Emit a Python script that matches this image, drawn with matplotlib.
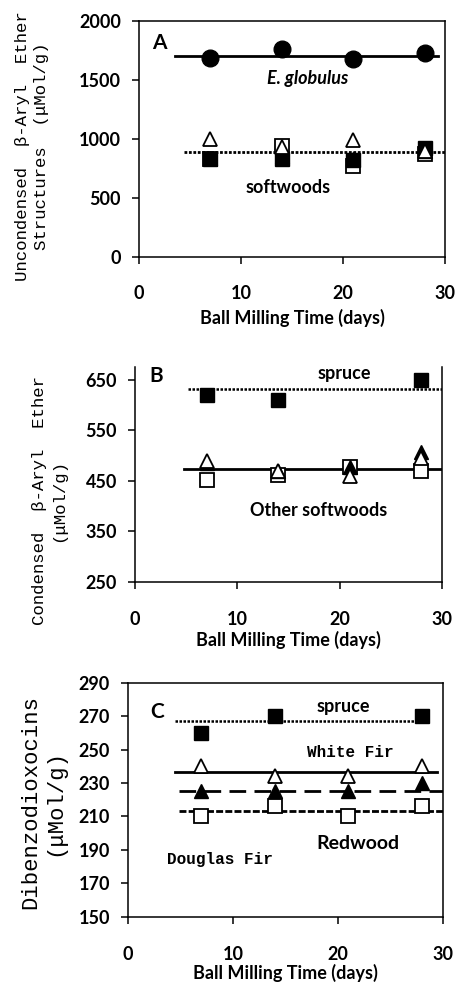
import numpy as np
import matplotlib
matplotlib.use("Agg")
import matplotlib.pyplot as plt

# valeurs
days = [7, 14, 21, 28]

# panneau A : beta-aryl ether non condense
eglob_A = [1690, 1760, 1680, 1730]
spruce_A = [830, 830, 820, 920]
whitefir_A = [1000, 930, 990, 900]
redwood_A = [840, 860, 830, 900]
douglas_A = [830, 940, 770, 870]
mean_eglob_A = 1700
mean_soft_A = 890

# panneau B : beta-aryl ether condense
spruce_B = [620, 610, np.nan, 650]
whitefir_B = [490, 470, 460, 495]
redwood_B = [485, 470, 478, 508]
douglas_B = [452, 462, 478, 470]
mean_spruce_B = 632
mean_other_B = 474

# panneau C : dibenzodioxocines
spruce_C = [260, 270, np.nan, 270]
whitefir_C = [240, 234, 234, 240]
redwood_C = [225, 225, 225, 230]
douglas_C = [210, 216, 210, 216]
mean_spruce_C = 267
mean_whitefir_C = 236.5
mean_redwood_C = 225.5
mean_douglas_C = 213

SANS = "Lato"
MONO = "Liberation Mono"
plt.rcParams['font.family'] = [SANS, 'DejaVu Sans']

fig = plt.figure(figsize=(4.57, 9.84), dpi=100)
axA = fig.add_axes([0.304, 0.7388, 0.670, 0.2399])
axB = fig.add_axes([0.2954, 0.4085, 0.6716, 0.2185])
axC = fig.add_axes([0.280, 0.0684, 0.689, 0.2378])


def style(ax, ylim, yticks, xpad=15, lpad=5):
    ax.set_xlim(0, 30)
    ax.set_ylim(*ylim)
    ax.set_xticks([0, 10, 20, 30])
    ax.set_yticks(yticks)
    for s in ax.spines.values():
        s.set_linewidth(1.1)
    ax.tick_params(axis='x', direction='out', length=5, width=1.1, pad=xpad, labelsize=13)
    ax.tick_params(axis='y', direction='out', length=5, width=1.1, pad=8, labelsize=13)
    for lab in ax.get_xticklabels() + ax.get_yticklabels():
        lab.set_fontweight('bold')
    ax.set_xlabel('Ball Milling Time (days)', fontsize=13, fontweight='bold', labelpad=lpad)


def points(ax, sp, wf, rw, df, ms=10):
    ax.plot(days, df, 's', ms=ms, mfc='white', mec='black', mew=1.3, ls='none', zorder=3)
    ax.plot(days, sp, 's', ms=ms, mfc='black', mec='black', ls='none', zorder=4)
    ax.plot(days, rw, '^', ms=ms, mfc='black', mec='black', ls='none', zorder=5)
    ax.plot(days, wf, '^', ms=ms, mfc='white', mec='black', mew=1.3, ls='none', zorder=6)


# A
style(axA, (0, 2000), [0, 500, 1000, 1500, 2000])
axA.plot([3.5, 29.3], [mean_eglob_A] * 2, color='black', lw=2, zorder=2)
axA.plot([4.4, 30], [mean_soft_A] * 2, color='black', lw=2, ls=(0, (1, 0.6)), zorder=2)
axA.plot(days, eglob_A, 'o', ms=12, color='black', zorder=6)
points(axA, spruce_A, whitefir_A, redwood_A, douglas_A)
axA.text(2.0, 1810, 'A', fontsize=15, fontweight='bold', ha='center', va='center')
axA.text(16.5, 1510, 'E. globulus', fontsize=13, fontstyle='italic', fontweight='bold',
         ha='center', va='center')
axA.text(14.6, 585, 'softwoods', fontsize=13, fontweight='bold', ha='center', va='center')
axA.set_ylabel('Uncondensed  \u03b2-Aryl  Ether\nStructures  (\u03bcMol/g)',
               family=[MONO, 'DejaVu Sans Mono'], fontsize=12.5, va='center', linespacing=1.3)
axA.yaxis.set_label_coords(-0.35, 0.47)

# B
style(axB, (250, 675), [250, 350, 450, 550, 650], xpad=16, lpad=2)
axB.spines['top'].set_visible(False)
axB.plot([5.2, 30], [mean_spruce_B] * 2, color='black', lw=1.8, ls=(0, (1, 0.6)), zorder=2)
axB.plot([4.8, 30], [mean_other_B] * 2, color='black', lw=2, zorder=2)
points(axB, spruce_B, whitefir_B, redwood_B, douglas_B)
axB.text(2.1, 658, 'B', fontsize=15, fontweight='bold', ha='center', va='center')
axB.text(20.5, 662, 'spruce', fontsize=13, fontweight='bold', ha='center', va='center')
axB.text(17.9, 392, 'Other softwoods', fontsize=13, fontweight='bold', ha='center', va='center')
axB.set_ylabel('Condensed  \u03b2-Aryl  Ether\n(\u03bcMol/g)',
               family=[MONO, 'DejaVu Sans Mono'], fontsize=12.5, va='center', linespacing=1.3)
axB.yaxis.set_label_coords(-0.28, 0.38)

# C
style(axC, (150, 290), [150, 170, 190, 210, 230, 250, 270, 290], xpad=16, lpad=1)
axC.plot([4.5, 28.8], [mean_spruce_C] * 2, color='black', lw=1.8, ls=(0, (1, 0.6)), zorder=2)
axC.plot([4.5, 29.4], [mean_whitefir_C] * 2, color='black', lw=2, zorder=2)
axC.plot([4.9, 30], [mean_redwood_C] * 2, color='black', lw=2, ls=(0, (6, 3)), zorder=2)
axC.plot([4.9, 30], [mean_douglas_C] * 2, color='black', lw=2, ls=(0, (2.5, 0.8)), zorder=2)
points(axC, spruce_C, whitefir_C, redwood_C, douglas_C)
axC.text(2.8, 272.5, 'C', fontsize=15, fontweight='bold', ha='center', va='center')
axC.text(20.5, 275.5, 'spruce', fontsize=13, fontweight='bold', ha='center', va='center')
axC.text(21.2, 248.5, 'White Fir', family=MONO, fontsize=11.5, fontweight='bold',
         ha='center', va='center')
axC.text(21.9, 194, 'Redwood', fontsize=14, fontweight='bold', ha='center', va='center')
axC.text(8.8, 184.5, 'Douglas Fir', family=MONO, fontsize=11.5, fontweight='bold',
         ha='center', va='center')
axC.set_ylabel('Dibenzodioxocins\n(\u03bcMol/g)',
               family=[MONO, 'DejaVu Sans Mono'], fontsize=16, va='center', linespacing=1.2)
axC.yaxis.set_label_coords(-0.27, 0.49)

fig.savefig('out.png', dpi=100)
